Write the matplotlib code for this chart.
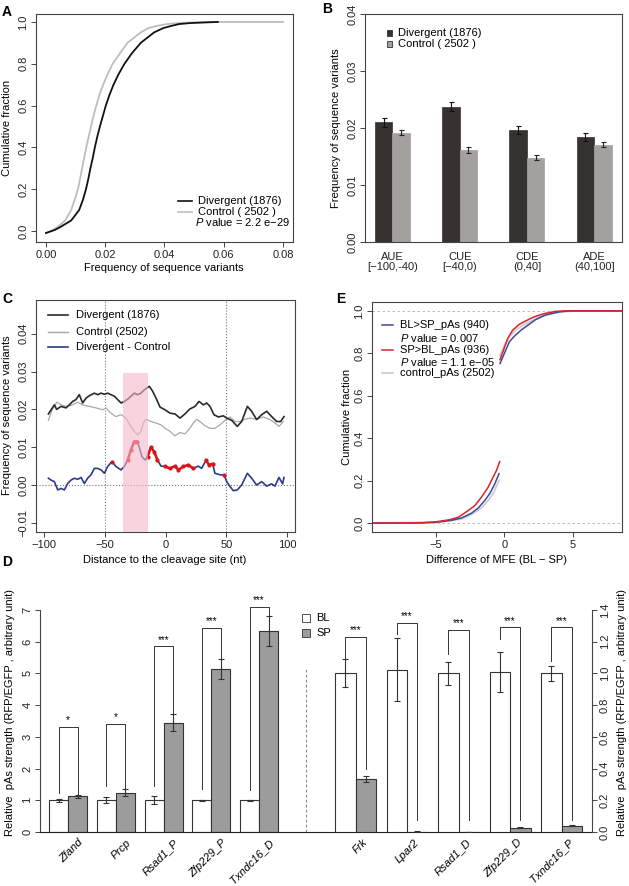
import numpy as np
import matplotlib
matplotlib.use("Agg")
import matplotlib.pyplot as plt
from matplotlib.lines import Line2D
from matplotlib.patches import Rectangle

plt.rcParams['font.family'] = ['Liberation Sans', 'DejaVu Sans']
plt.rcParams['mathtext.fontset'] = 'custom'
plt.rcParams['mathtext.rm'] = 'Liberation Sans'
plt.rcParams['mathtext.it'] = 'Liberation Sans:italic'
plt.rcParams['font.size'] = 8
plt.rcParams['axes.linewidth'] = 0.8
plt.rcParams['axes.edgecolor'] = '#444444'
plt.rcParams['xtick.major.size'] = 3.5
plt.rcParams['ytick.major.size'] = 3.5
plt.rcParams['xtick.major.width'] = 0.7
plt.rcParams['ytick.major.width'] = 0.7
plt.rcParams['xtick.color'] = '#444444'
plt.rcParams['ytick.color'] = '#444444'
plt.rcParams['xtick.labelcolor'] = '#222222'
plt.rcParams['ytick.labelcolor'] = '#222222'
plt.rcParams['xtick.major.pad'] = 2
plt.rcParams['ytick.major.pad'] = 2

MINUS = '\u2212'

# ---- A: cumulative fraction of variant frequency
a_div_x = [0.0, 0.003, 0.005, 0.0085, 0.0112, 0.0125, 0.0135, 0.0143, 0.015, 0.0158, 0.0165, 0.0173, 0.0182,
           0.0192, 0.0202, 0.0214, 0.0228, 0.0245, 0.0265, 0.029, 0.032, 0.0365, 0.0395, 0.042, 0.045, 0.049, 0.058]
a_div_y = [-0.01, 0.005, 0.02, 0.05, 0.1, 0.15, 0.2, 0.25, 0.3, 0.35, 0.4, 0.45, 0.5,
           0.55, 0.6, 0.65, 0.7, 0.75, 0.8, 0.85, 0.9, 0.95, 0.97, 0.98, 0.99, 0.995, 1.0]
a_ctl_x = [0.0, 0.0025, 0.004, 0.0065, 0.0085, 0.0097, 0.0108, 0.0115, 0.0122, 0.0129, 0.0136, 0.0144, 0.0152,
           0.016, 0.017, 0.018, 0.0193, 0.0208, 0.0225, 0.025, 0.0275, 0.032, 0.0345, 0.037, 0.041, 0.045, 0.055, 0.08]
a_ctl_y = [-0.01, 0.005, 0.02, 0.05, 0.1, 0.15, 0.2, 0.25, 0.3, 0.35, 0.4, 0.45, 0.5,
           0.55, 0.6, 0.65, 0.7, 0.75, 0.8, 0.85, 0.9, 0.95, 0.97, 0.98, 0.99, 0.995, 1.0, 1.0]

# ---- B: mean frequency per region
b_regions = ['AUE\n[' + MINUS + '100,-40)', 'CUE\n[' + MINUS + '40,0)', 'CDE\n(0,40]', 'ADE\n(40,100]']
b_div = [0.0210, 0.0237, 0.0196, 0.0185]
b_div_err = [0.0008, 0.0008, 0.0007, 0.0007]
b_ctl = [0.0192, 0.0161, 0.0148, 0.0171]
b_ctl_err = [0.0005, 0.0005, 0.0005, 0.0005]

# ---- C: frequency along the distance to cleavage site
c_div_x = [-96.4, -91.5, -89.6, -86, -81.9, -79.2, -76.4, -73.7, -71, -68.2, -65.4, -62.7, -58.6, -55.8, -53.1,
           -50.3, -47.6, -44.9, -42.1, -39.4, -36.6, -33.9, -31.1, -28.4, -25.7, -22.9, -20.2, -17.4, -13.3,
           -10.6, -7.8, -4.5, -0.4, 3.7, 7.8, 12, 16, 20, 24.3, 27.6, 31.2, 33.9, 36.6, 39.9, 43.5, 47.6, 50.4,
           54.5, 59.1, 62.7, 67.4, 70.9, 75, 79.2, 83.3, 87.4, 91.5, 94.8, 97.5]
c_div_y = [0.0188, 0.0212, 0.0200, 0.0208, 0.0204, 0.0212, 0.0221, 0.0226, 0.0239, 0.0217, 0.0230, 0.0236, 0.0243,
           0.0239, 0.0243, 0.0240, 0.0243, 0.0239, 0.0235, 0.0226, 0.0217, 0.0221, 0.0227, 0.0235, 0.0243, 0.0239,
           0.0243, 0.0252, 0.0261, 0.0248, 0.0230, 0.0206, 0.0199, 0.0190, 0.0188, 0.0177, 0.0188, 0.0201, 0.0208,
           0.0221, 0.0212, 0.0217, 0.0208, 0.0186, 0.0180, 0.0183, 0.0177, 0.0171, 0.0155, 0.0168, 0.0208, 0.0195,
           0.0173, 0.0186, 0.0195, 0.0181, 0.0168, 0.0168, 0.0181]
c_ctl_x = [-96.4, -93.4, -89.6, -86, -81.9, -76.4, -72.3, -68.2, -62.7, -57.2, -51.7, -49, -44.9, -40.8, -36.6,
           -32.5, -29.3, -25.7, -22.9, -20.2, -18.3, -16.1, -12, -7.8, -3.7, -0.4, 3.7, 7.8, 12, 16, 20, 22.9,
           25.6, 28.3, 32.4, 36.6, 40.7, 44.8, 49, 53.1, 57.2, 61.3, 65.4, 69.6, 75, 80.5, 86, 90.1, 93.4, 97]
c_ctl_y = [0.0171, 0.0199, 0.0219, 0.0212, 0.0208, 0.0212, 0.0219, 0.0212, 0.0208, 0.0204, 0.0199, 0.0204, 0.0190,
           0.0181, 0.0186, 0.0177, 0.0159, 0.0142, 0.0133, 0.0142, 0.0164, 0.0174, 0.0168, 0.0164, 0.0159, 0.0150,
           0.0142, 0.0130, 0.0139, 0.0135, 0.0150, 0.0164, 0.0174, 0.0168, 0.0157, 0.0150, 0.0150, 0.0159, 0.0171,
           0.0180, 0.0168, 0.0168, 0.0174, 0.0177, 0.0174, 0.0180, 0.0173, 0.0164, 0.0155, 0.0168]
c_dif_x = [-96.4, -94.2, -91.5, -88.7, -86, -83.3, -80.5, -77.8, -75, -72.3, -69.5, -66.8, -64.1, -61.3, -58.6,
           -55.8, -53.1, -50.3, -47.6, -44, -40.8, -36.6, -33.9, -31.1, -28.4, -25.7, -23.5, -21.6, -19.4, -16.7,
           -14.8, -12, -9.3, -6.6, -3.7, -0.4, 3.7, 7.8, 10.6, 14.7, 18.8, 22.9, 27, 29.7, 33.3, 36, 38.8, 40.7,
           44.8, 48.1, 50.4, 53.1, 55.8, 59.1, 62.7, 67.4, 70.9, 75, 79.2, 83.3, 87.4, 90.1, 93.4, 96.4, 97.5]
c_dif_y = [0.0018, 0.0013, 0.0009, -0.0013, -0.0009, -0.0013, 0.0004, 0.0013, 0.0018, 0.0015, 0.0020, 0.0004,
           0.0018, 0.0027, 0.0044, 0.0044, 0.0040, 0.0031, 0.0049, 0.0062, 0.0049, 0.0040, 0.0049, 0.0066, 0.0093,
           0.0115, 0.0115, 0.0100, 0.0075, 0.0066, 0.0075, 0.0100, 0.0088, 0.0066, 0.0050, 0.0049, 0.0044, 0.0050,
           0.0040, 0.0049, 0.0053, 0.0044, 0.0050, 0.0044, 0.0065, 0.0053, 0.0056, 0.0031, 0.0027, 0.0027, 0.0009,
           -0.0004, -0.0015, -0.0013, 0.0000, 0.0031, 0.0018, 0.0000, 0.0009, -0.0003, 0.0003, -0.0003, 0.0020,
           0.0003, 0.0020]
c_sig_ranges = [(-45, -43), (-32, -23), (-15, -6), (-1, 23), (31, 39), (47, 49)]
c_band = (-35.2, -14.6, 0.0297)

# ---- D: relative pAs strength
d_left_genes = ['Zfand', 'Prcp', 'Rsad1_P', 'Zfp229_P', 'Txndc16_D']
d_left_bl = [1.0, 1.0, 1.0, 1.0, 1.0]
d_left_bl_err = [0.05, 0.09, 0.12, 0.02, 0.02]
d_left_sp = [1.12, 1.24, 3.44, 5.14, 6.34]
d_left_sp_err = [0.04, 0.11, 0.27, 0.33, 0.46]
d_left_stars = ['*', '*', '***', '***', '***']
d_left_br_top = [3.31, 3.42, 5.85, 6.42, 7.10]
d_left_br_bl = [1.23, 1.44, 1.44, 1.36, 1.34]
d_left_br_sp = [1.15, 1.36, 3.75, 5.49, 6.83]

d_right_genes = ['Frk', 'Lpar2', 'Rsad1_D', 'Zfp229_D', 'Txndc16_P']
d_right_bl = [1.002, 1.023, 1.002, 1.010, 1.000]
d_right_bl_err = [0.09, 0.20, 0.072, 0.125, 0.045]
d_right_sp = [0.333, 0.003, 0.002, 0.027, 0.040]
d_right_sp_err = [0.018, 0.001, 0.001, 0.002, 0.002]
d_right_stars = ['***', '***', '***', '***', '***']
d_right_br_top = [1.228, 1.32, 1.274, 1.29, 1.29]
d_right_br_bl = [1.10, 1.25, 1.12, 1.22, 1.08]
d_right_br_sp = [0.395, 0.077, 0.077, 0.077, 0.075]

# ---- E: cumulative fraction of MFE difference
e_bl_lo_x = [-9.7, -6, -5, -3.84, -3.1, -2.4, -1.9, -1.43, -1.06, -0.7, -0.39]
e_bl_lo_y = [0, 0.001, 0.004, 0.013, 0.025, 0.047, 0.072, 0.107, 0.14, 0.185, 0.233]
e_bl_hi_x = [-0.32, 0, 0.36, 0.72, 1.21, 1.81, 2.29, 3.0, 3.99, 4.7, 8.6]
e_bl_hi_y = [0.752, 0.80, 0.854, 0.88, 0.909, 0.937, 0.959, 0.98, 0.995, 1.0, 1.0]
e_sp_lo_x = [-9.7, -6, -5, -4.0, -3.36, -2.63, -2.15, -1.67, -1.18, -0.82, -0.58, -0.34]
e_sp_lo_y = [0, 0.002, 0.006, 0.016, 0.028, 0.06, 0.083, 0.123, 0.17, 0.217, 0.248, 0.29]
e_sp_hi_x = [-0.32, -0.07, 0.24, 0.6, 1.09, 1.57, 2.17, 2.9, 3.74, 4.47, 8.6]
e_sp_hi_y = [0.77, 0.814, 0.87, 0.909, 0.937, 0.953, 0.972, 0.987, 0.998, 1.0, 1.0]
e_ctl_lo_x = [-9.7, -5, -3.1, -2.4, -1.67, -1.18, -0.82, -0.5, -0.39]
e_ctl_lo_y = [0, 0.003, 0.02, 0.041, 0.072, 0.107, 0.14, 0.185, 0.2]
e_ctl_hi_x = [-0.32, 0, 0.36, 0.85, 1.57, 2.29, 3.0, 4.0, 5.2, 8.6]
e_ctl_hi_y = [0.79, 0.838, 0.877, 0.912, 0.94, 0.964, 0.984, 0.995, 1.0, 1.0]

W, H = 629, 886
fig = plt.figure(figsize=(W / 100, H / 100), dpi=100)


def axes_px(l, t, r, b):
    return fig.add_axes([l / W, 1 - b / H, (r - l) / W, (b - t) / H])


def ftext(x, y, s, **kw):
    kw.setdefault('va', 'center')
    return fig.text(x / W, 1 - y / H, s, **kw)


def fline(x1, x2, y, **kw):
    fig.add_artist(Line2D([x1 / W, x2 / W], [1 - y / H, 1 - y / H], **kw))


def fsquare(x, y, s, color):
    fig.add_artist(Rectangle(((x - s / 2) / W, 1 - (y + s / 2) / H), s / W, s / H,
                             facecolor=color, edgecolor='#333333', lw=0.6, transform=fig.transFigure))


def rot_y(ax):
    for lab in ax.get_yticklabels():
        lab.set_rotation(90)
        lab.set_va('center')


BLACK = '#111111'
GRAY_A = '#bdbdbd'
PVAL = r'$\mathit{P}$ value = '

# ================= A
ax = axes_px(36, 14, 293, 242)
ax.plot(a_ctl_x, a_ctl_y, color=GRAY_A, lw=1.3)
ax.plot(a_div_x, a_div_y, color=BLACK, lw=1.3)
ax.set_xlim(-0.00338, 0.0834)
ax.set_ylim(-0.053, 1.038)
ax.set_xticks([0, 0.02, 0.04, 0.06, 0.08])
ax.set_xticklabels(['0.00', '0.02', '0.04', '0.06', '0.08'])
ax.set_yticks([0, 0.2, 0.4, 0.6, 0.8, 1.0])
ax.set_yticklabels(['0.0', '0.2', '0.4', '0.6', '0.8', '1.0'])
rot_y(ax)
ftext(7, 128, 'Cumulative fraction', rotation=90, ha='center')
ftext(164, 268, 'Frequency of sequence variants', ha='center')
fline(178, 192, 201, color=BLACK, lw=1.2)
fline(178, 192, 212, color=GRAY_A, lw=1.2)
ftext(198, 201, 'Divergent (1876)')
ftext(198, 212, 'Control ( 2502 )')
ftext(195, 222, PVAL + '2.2 e' + MINUS + '29')
ftext(7, 12, 'A', fontweight='bold', fontsize=10, ha='center')

# ================= B
ax = axes_px(365, 14, 622, 242)
xb = np.arange(len(b_regions)) * 3.84
ax.bar(xb, b_div, width=1, align='edge', color='#353230', edgecolor='#353230', lw=0.5)
ax.bar(xb + 1, b_ctl, width=1, align='edge', color='#a3a09e', edgecolor='#a3a09e', lw=0.5)
ax.errorbar(xb + 0.5, b_div, yerr=b_div_err, fmt='none', ecolor=BLACK, elinewidth=0.8, capsize=1.8, capthick=0.8)
ax.errorbar(xb + 1.5, b_ctl, yerr=b_ctl_err, fmt='none', ecolor='#222222', elinewidth=0.8, capsize=1.8, capthick=0.8)
ax.set_xlim(-0.57, 14.11)
ax.set_ylim(0, 0.04)
ax.set_yticks([0, 0.01, 0.02, 0.03, 0.04])
ax.set_yticklabels(['0.00', '0.01', '0.02', '0.03', '0.04'])
rot_y(ax)
ax.set_xticks(xb + 1)
ax.set_xticklabels(b_regions, linespacing=1.05)
ax.tick_params(axis='x', length=0, pad=7)
ftext(336, 128, 'Frequency of sequence variants', rotation=90, ha='center')
fsquare(389, 33, 5, '#353230')
fsquare(389, 44, 5, '#a3a09e')
ftext(398, 33, 'Divergent (1876)')
ftext(398, 44, 'Control ( 2502 )')
ftext(327, 9, 'B', fontweight='bold', fontsize=10, ha='center')

# ================= C
ax = axes_px(36, 300, 295, 532)
ylo, yhi = -0.01243, 0.04894
ax.axvline(-50, color='#777777', ls=':', lw=0.8)
ax.axvline(50, color='#777777', ls=':', lw=0.8)
ax.axhline(0, color='#777777', ls=':', lw=0.8)
ax.plot(c_ctl_x, c_ctl_y, color='#a8a8a8', lw=0.9)
ax.plot(c_div_x, c_div_y, color='#2a2a2a', lw=1.2)
dx = np.array(c_dif_x)
dy = np.array(c_dif_y)
ax.plot(dx, dy, color='#2d3a8c', lw=1.2)
for lo, hi in c_sig_ranges:
    m = (dx >= lo) & (dx <= hi)
    ax.plot(dx[m], dy[m], color='#d9151b', lw=1.8, marker='o', ms=2, mec='#d9151b')
ax.add_patch(Rectangle((c_band[0], ylo), c_band[1] - c_band[0], c_band[2] - ylo,
                       facecolor='#f5b8c9', edgecolor='none', alpha=0.6, zorder=5))
ax.set_xlim(-106.6, 106.6)
ax.set_ylim(ylo, yhi)
ax.set_xticks([-100, -50, 0, 50, 100])
ax.set_xticklabels([MINUS + '100', MINUS + '50', '0', '50', '100'])
ax.set_yticks([-0.01, 0, 0.01, 0.02, 0.03, 0.04])
ax.set_yticklabels([MINUS + '0.01', '0.00', '0.01', '0.02', '0.03', '0.04'])
rot_y(ax)
ftext(7, 415, 'Frequency of sequence variants', rotation=90, ha='center')
ftext(165, 560, 'Distance to the cleavage site (nt)', ha='center')
fline(48, 68, 315, color='#2a2a2a', lw=1.2)
fline(48, 68, 332, color='#a8a8a8', lw=1.0)
fline(48, 68, 347, color='#2d3a8c', lw=1.2)
ftext(76, 315, 'Divergent (1876)')
ftext(76, 332, 'Control (2502)')
ftext(76, 347, 'Divergent - Control')
ftext(7, 299, 'C', fontweight='bold', fontsize=10, ha='center')

# ================= E
ax = axes_px(372, 302, 622, 532)
ax.axhline(0, color='#b0b0b0', ls='--', lw=0.6, dashes=(3, 3))
ax.axhline(1, color='#b0b0b0', ls='--', lw=0.6, dashes=(3, 3))
ax.plot(e_ctl_lo_x, e_ctl_lo_y, color='#cfcfcf', lw=1.4)
ax.plot(e_ctl_hi_x, e_ctl_hi_y, color='#cfcfcf', lw=1.4)
ax.plot(e_bl_lo_x, e_bl_lo_y, color='#3a4a9e', lw=1.1)
ax.plot(e_bl_hi_x, e_bl_hi_y, color='#3a4a9e', lw=1.1)
ax.plot(e_sp_lo_x, e_sp_lo_y, color='#d6262b', lw=1.1)
ax.plot(e_sp_hi_x, e_sp_hi_y, color='#d6262b', lw=1.1)
ax.set_xlim(-9.69, 8.61)
ax.set_ylim(-0.042, 1.042)
ax.set_xticks([-5, 0, 5])
ax.set_xticklabels([MINUS + '5', '0', '5'])
ax.set_yticks([0, 0.2, 0.4, 0.6, 0.8, 1.0])
ax.set_yticklabels(['0.0', '0.2', '0.4', '0.6', '0.8', '1.0'])
rot_y(ax)
ftext(347, 417, 'Cumulative fraction', rotation=90, ha='center')
ftext(497, 560, 'Difference of MFE (BL ' + MINUS + ' SP)', ha='center')
fline(382, 393, 325, color='#3a4a9e', lw=1.1)
fline(382, 393, 350, color='#d6262b', lw=1.1)
fline(382, 393, 373, color='#cfcfcf', lw=1.3)
ftext(400, 325, 'BL>SP_pAs (940)')
ftext(400, 338, PVAL + '0.007')
ftext(400, 350, 'SP>BL_pAs (936)')
ftext(400, 362, PVAL + '1.1 e' + MINUS + '05')
ftext(400, 373, 'control_pAs (2502)')
ftext(341, 299, 'E', fontweight='bold', fontsize=10, ha='center')

# ================= D
ax = axes_px(40, 600, 592, 832)
ax2 = ax.twinx()
ax.set_xlim(0, 552)
ax.set_ylim(0, 7 * 232 / 222)
ax2.set_ylim(0, 1.4 * 232 / 222)

bw_l = 19.1
xl = 9 + np.arange(len(d_left_genes)) * 2.5 * bw_l
bw_r = 20.6
xr = 295 + np.arange(len(d_right_genes)) * 2.5 * bw_r

EDGE = '#333333'
SPC = '#9c9c9c'


def draw_group(a, x0, bw, bl, bl_err, sp, sp_err, top, leg_bl, leg_sp, stars):
    blc = x0 + bw / 2
    spc = x0 + 1.5 * bw
    a.bar(blc, bl, width=bw, color='white', edgecolor=EDGE, lw=0.8)
    a.bar(spc, sp, width=bw, color=SPC, edgecolor=EDGE, lw=0.8)
    a.errorbar(blc, bl, yerr=bl_err, fmt='none', ecolor=EDGE, elinewidth=0.8, capsize=2, capthick=0.8)
    a.errorbar(spc, sp, yerr=sp_err, fmt='none', ecolor=EDGE, elinewidth=0.8, capsize=2, capthick=0.8)
    off = (a.get_ylim()[1]) * 0.008
    for i in range(len(bl)):
        a.plot([blc[i], blc[i], spc[i], spc[i]], [leg_bl[i], top[i], top[i], leg_sp[i]],
               color='#333333', lw=0.7, clip_on=False)
        a.text((blc[i] + spc[i]) / 2, top[i] + off, stars[i], ha='center', va='bottom',
               fontsize=7, clip_on=False)


draw_group(ax, xl, bw_l, d_left_bl, d_left_bl_err, d_left_sp, d_left_sp_err,
           d_left_br_top, d_left_br_bl, d_left_br_sp, d_left_stars)
draw_group(ax2, xr, bw_r, d_right_bl, d_right_bl_err, d_right_sp, d_right_sp_err,
           d_right_br_top, d_right_br_bl, d_right_br_sp, d_right_stars)

ax.plot([266, 266], [0, 5.13], color='#888888', ls='--', lw=0.8, dashes=(2.5, 2))

for a in (ax, ax2):
    a.spines['top'].set_visible(False)
ax.spines['right'].set_visible(False)
ax2.spines['left'].set_visible(False)
ax2.spines['bottom'].set_visible(False)
ax.spines['left'].set_bounds(0, 7)
ax2.spines['right'].set_bounds(0, 1.4)
ax.spines['bottom'].set_color('#222222')
ax.set_xticks([])
ax.set_yticks(range(8))
ax.set_yticklabels([str(v) for v in range(8)])
rot_y(ax)
ax2.set_yticks([0, 0.2, 0.4, 0.6, 0.8, 1.0, 1.2, 1.4])
ax2.set_yticklabels(['0.0', '0.2', '0.4', '0.6', '0.8', '1.0', '1.2', '1.4'])
rot_y(ax2)

for i, g in enumerate(d_left_genes):
    ax.text(xl[i] + bw_l * 1.7, -0.28, g, rotation=45, ha='right', va='center',
            rotation_mode='anchor', fontstyle='italic', clip_on=False)
for i, g in enumerate(d_right_genes):
    ax.text(xr[i] + bw_r * 1.5, -0.28, g, rotation=45, ha='right', va='center',
            rotation_mode='anchor', fontstyle='italic', clip_on=False)

ftext(10, 712, 'Relative  pAs strength (RFP/EGFP , arbitrary unit)', rotation=90, ha='center')
ftext(622, 712, 'Relative  pAs strength (RFP/EGFP , arbitrary unit)', rotation=90, ha='center')
fsquare(306, 618, 8, 'white')
fsquare(306, 633, 8, SPC)
ftext(316, 618, 'BL')
ftext(316, 633, 'SP')
ftext(7, 562, 'D', fontweight='bold', fontsize=10, ha='center')

fig.savefig('out.png', dpi=100)
